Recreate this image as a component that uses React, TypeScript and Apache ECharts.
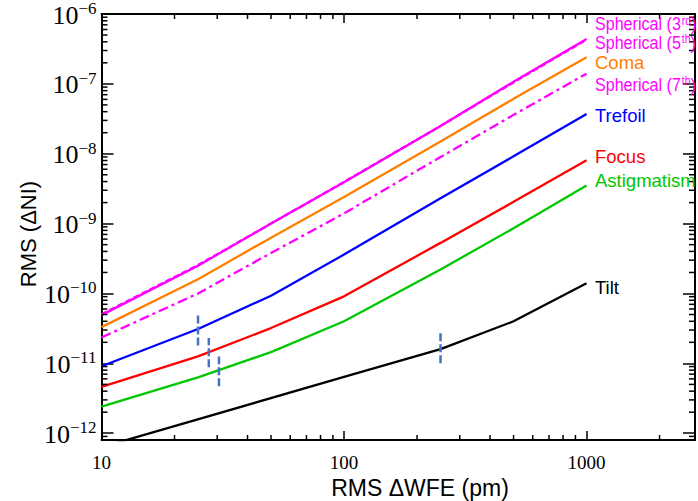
import React, { useEffect, useRef } from 'react';
import * as echarts from 'echarts';

// ---- data ----
const wfe = [10, 25, 50, 100, 250, 500, 1000];
const spherical3 = [4.9e-11, 2.5e-10, 1.0e-9, 3.9e-9, 2.5e-8, 1.07e-7, 4.4e-7];
const spherical5 = [5.05e-11, 2.55e-10, 1.0e-9, 3.95e-9, 2.5e-8, 1.05e-7, 4.3e-7];
const coma = [3.3e-11, 1.6e-10, 6.3e-10, 2.4e-9, 1.5e-8, 6.1e-8, 2.4e-7];
const spherical7 = [2.35e-11, 1.0e-10, 3.8e-10, 1.4e-9, 9.0e-9, 3.6e-8, 1.4e-7];
const trefoil = [9.1e-12, 3.1e-11, 9.3e-11, 3.6e-10, 2.3e-9, 9.2e-9, 3.7e-8];
const focus = [4.6e-12, 1.26e-11, 3.2e-11, 9.1e-11, 5.3e-10, 2.05e-9, 8.1e-9];
const astigmatism = [2.4e-12, 6.3e-12, 1.45e-11, 4.0e-11, 2.2e-10, 8.6e-10, 3.5e-9];
const tiltWfe = [10, 100, 250, 500, 1000];
const tilt = [6.3e-13, 6.4e-12, 1.6e-11, 4.0e-11, 1.4e-10];

const markerWfe = [25, 27.7, 30.5, 250];
const markerLow = [1.8e-11, 8.8e-12, 4.7e-12, 1.0e-11];
const markerHigh = [4.9e-11, 2.3e-11, 1.25e-11, 2.7e-11];

const X_MIN = 10;
const X_MAX = 2800;
const Y_MIN = 8e-13;
const Y_MAX = 1e-6;
const minorMultipliers = [2, 3, 4, 5, 6, 7, 8, 9];
const xDecades = [10, 100, 1000];
const yDecades = [1e-13, 1e-12, 1e-11, 1e-10, 1e-9, 1e-8, 1e-7];

const MAGENTA = '#FF00FF';
const ORANGE = '#FF8000';
const BLUE = '#0000FF';
const RED = '#FF0000';
const GREEN = '#00C800';
const BLACK = '#000000';
const MARKER = '#4472C4';

const curveLabels = [
  { text: 'Spherical (3', sup: 'rd', tail: ')', color: MAGENTA, y: 22.5, squeeze: 0.87 },
  { text: 'Spherical (5', sup: 'th', tail: ')', color: MAGENTA, y: 41, squeeze: 0.87 },
  { text: 'Coma', sup: '', tail: '', color: ORANGE, y: 60.5, squeeze: 1 },
  { text: 'Spherical (7', sup: 'th', tail: ')', color: MAGENTA, y: 83, squeeze: 0.87 },
  { text: 'Trefoil', sup: '', tail: '', color: BLUE, y: 114, squeeze: 1 },
  { text: 'Focus', sup: '', tail: '', color: RED, y: 155, squeeze: 1 },
  { text: 'Astigmatism', sup: '', tail: '', color: GREEN, y: 178.5, squeeze: 1 },
  { text: 'Tilt', sup: '', tail: '', color: BLACK, y: 286, squeeze: 1 },
];

const SANS = "'Liberation Sans', Arial, sans-serif";
const SERIF = "'Liberation Serif', 'Times New Roman', serif";

function pairs(xs: number[], ys: number[]) {
  return xs.map((x, i) => [x, ys[i]]);
}

export default function App() {
  const ref = useRef<HTMLDivElement>(null);
  useEffect(() => {
    if (!ref.current) return;
    const chart = echarts.init(ref.current, null, { renderer: 'svg' });

    const xMinor: number[] = [];
    xDecades.forEach((d) => minorMultipliers.forEach((m) => {
      const v = d * m;
      if (v > X_MIN && v < X_MAX) xMinor.push(v);
    }));
    const yMinor: number[] = [];
    yDecades.forEach((d) => minorMultipliers.forEach((m) => {
      const v = d * m;
      if (v > Y_MIN * 1.0001 && v < Y_MAX) yMinor.push(v);
    }));

    const lineSeries = (name: string, data: number[][], color: string, type: any, z = 3) => ({
      name,
      type: 'line',
      data,
      symbol: 'none',
      clip: true,
      z,
      lineStyle: { color, width: 2.3, type },
      silent: true,
    });

    const series: any[] = [
      lineSeries('Tilt', pairs(tiltWfe, tilt), BLACK, 'solid'),
      lineSeries('Astigmatism', pairs(wfe, astigmatism), GREEN, 'solid'),
      lineSeries('Focus', pairs(wfe, focus), RED, 'solid'),
      lineSeries('Trefoil', pairs(wfe, trefoil), BLUE, 'solid'),
      lineSeries('Spherical 7', pairs(wfe, spherical7), MAGENTA, [10, 4, 3, 4]),
      lineSeries('Coma', pairs(wfe, coma), ORANGE, 'solid'),
      lineSeries('Spherical 3', pairs(wfe, spherical3), MAGENTA, 'solid'),
      lineSeries('Spherical 5', pairs(wfe, spherical5), MAGENTA, [6, 3], 4),
    ];
    markerWfe.forEach((x, i) => {
      series.push({
        type: 'line',
        data: [[x, markerLow[i]], [x, markerHigh[i]]],
        symbol: 'none',
        z: 6,
        silent: true,
        lineStyle: { color: MARKER, width: 2.5, type: [8, 3] },
      });
    });
    series.push({
      type: 'custom',
      silent: true,
      clip: false,
      z: 10,
      data: xMinor.map((v) => [v, Y_MIN]),
      renderItem: (params: any, api: any) => {
        const cs = params.coordSys;
        const x = api.coord([api.value(0), api.value(1)])[0];
        const b = cs.y + cs.height;
        const t = cs.y;
        return {
          type: 'group',
          children: [
            { type: 'line', shape: { x1: x, y1: b, x2: x, y2: b - 5 }, style: { stroke: '#000', lineWidth: 1.5 } },
            { type: 'line', shape: { x1: x, y1: t, x2: x, y2: t + 5 }, style: { stroke: '#000', lineWidth: 1.5 } },
          ],
        };
      },
    });
    series.push({
      type: 'custom',
      silent: true,
      clip: false,
      z: 10,
      data: yMinor.map((v) => [X_MIN, v]),
      renderItem: (params: any, api: any) => {
        const cs = params.coordSys;
        const y = api.coord([api.value(0), api.value(1)])[1];
        const l = cs.x;
        const r = cs.x + cs.width;
        return {
          type: 'group',
          children: [
            { type: 'line', shape: { x1: l, y1: y, x2: l + 6, y2: y }, style: { stroke: '#000', lineWidth: 1.5 } },
            { type: 'line', shape: { x1: r, y1: y, x2: r - 6, y2: y }, style: { stroke: '#000', lineWidth: 1.5 } },
          ],
        };
      },
    });

    const axisLine = { onZero: false, lineStyle: { color: '#000', width: 2 } };

    const graphic: any[] = curveLabels.map((l) => ({
      type: 'text',
      x: 595,
      y: l.y,
      scaleX: l.squeeze,
      z: 100,
      style: {
        text: `{n|${l.text}}` + (l.sup ? `{s|${l.sup}}{n|${l.tail}}` : ''),
        verticalAlign: 'middle',
        align: 'left',
        rich: {
          n: { fill: l.color, fontSize: 18.5, fontFamily: SANS, lineHeight: 22, verticalAlign: 'bottom' },
          s: { fill: l.color, fontSize: 12, fontFamily: SANS, lineHeight: 12, verticalAlign: 'top', padding: [3, 0, 0, 1] },
        },
      },
    }));
    graphic.push({
      type: 'text',
      x: 420,
      y: 488,
      style: { text: 'RMS ΔWFE (pm)', fill: '#000', fontSize: 23, fontFamily: SANS, align: 'center', verticalAlign: 'middle' },
    });
    graphic.push({
      type: 'text',
      x: 28,
      y: 234,
      rotation: Math.PI / 2,
      style: { text: 'RMS (ΔNI)', fill: '#000', fontSize: 22, fontFamily: SANS, align: 'center', verticalAlign: 'middle' },
    });

    chart.setOption({
      animation: false,
      backgroundColor: '#fff',
      grid: { left: 101.5, right: 3, top: 13, bottom: 61, containLabel: false },
      xAxis: [
        {
          type: 'log', logBase: 10, min: X_MIN, max: X_MAX, splitNumber: 2,
          axisLine, splitLine: { show: false },
          axisTick: { inside: true, length: 9, lineStyle: { color: '#000', width: 1.5 } },
          axisLabel: {
            showMaxLabel: false, margin: 13, color: '#000', fontSize: 19, fontFamily: SERIF,
            formatter: (v: number) => String(Math.round(v)),
          },
        },
        {
          type: 'log', logBase: 10, min: X_MIN, max: X_MAX, splitNumber: 2, position: 'top',
          axisLine, splitLine: { show: false },
          axisTick: { inside: true, length: 9, lineStyle: { color: '#000', width: 1.5 } },
          axisLabel: { show: false },
        },
      ],
      yAxis: [
        {
          type: 'log', logBase: 10, min: Y_MIN, max: Y_MAX,
          axisLine, splitLine: { show: false },
          axisTick: { inside: true, length: 12, lineStyle: { color: '#000', width: 1.5 } },
          axisLabel: {
            showMinLabel: false, margin: 5,
            formatter: (v: number) => `{b|10}{s|−${-Math.round(Math.log10(v))}}`,
            rich: {
              b: { fontSize: 26, fontFamily: SERIF, color: '#000', lineHeight: 28, verticalAlign: 'bottom' },
              s: { fontSize: 17, fontFamily: SERIF, color: '#000', lineHeight: 17, verticalAlign: 'top' },
            },
          },
        },
        {
          type: 'log', logBase: 10, min: Y_MIN, max: Y_MAX, position: 'right',
          axisLine, splitLine: { show: false },
          axisTick: { inside: true, length: 12, lineStyle: { color: '#000', width: 1.5 } },
          axisLabel: { show: false },
        },
      ],
      series,
      graphic,
    });
    return () => chart.dispose();
  }, []);
  return <div ref={ref} style={{ position: 'fixed', left: 0, top: 0, width: 698, height: 501 }} />;
}
